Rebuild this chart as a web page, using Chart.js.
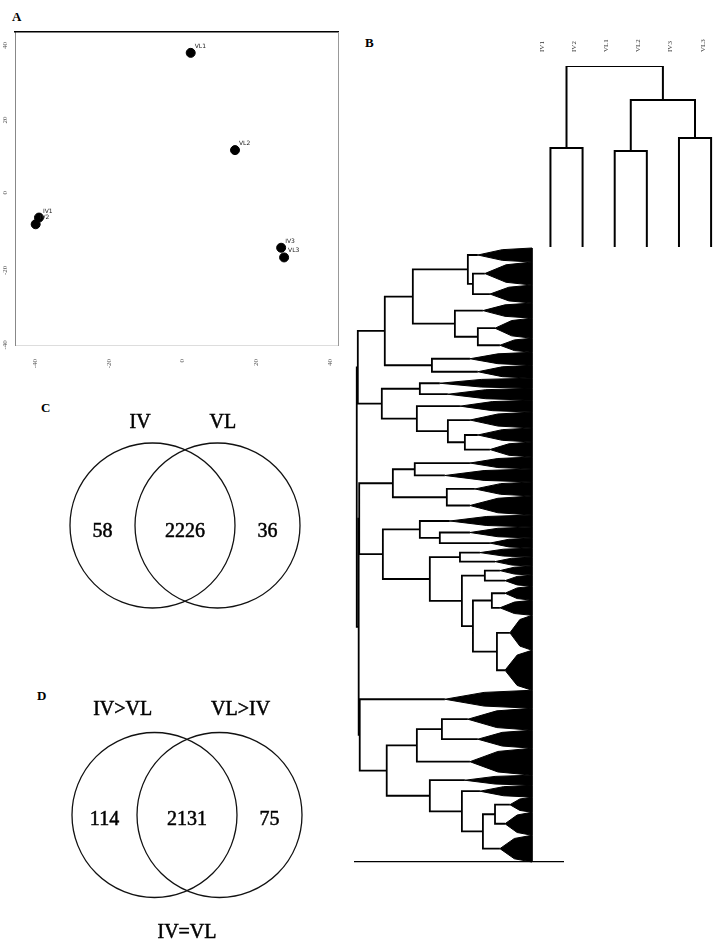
<!DOCTYPE html>
<html>
<head>
<meta charset="utf-8">
<script src="https://cdn.jsdelivr.net/npm/chart.js@4.4.1/dist/chart.umd.min.js"></script>
<style>
  html, body { margin: 0; padding: 0; background: #fff; }
  body { width: 725px; height: 941px; position: relative; overflow: hidden; font-family: "Liberation Serif", "DejaVu Serif", serif; }
  canvas { position: absolute; }
  .panel { position: absolute; font-weight: bold; font-size: 13px; line-height: 1; color: #000; }
</style>
</head>
<body>
<div class="panel" style="left:12px;top:10px">A</div>
<div class="panel" style="left:365px;top:36px">B</div>
<div class="panel" style="left:41px;top:401px">C</div>
<div class="panel" style="left:37px;top:689px">D</div>

<canvas id="pca" width="350" height="380" style="left:0;top:0"></canvas>
<canvas id="samples" width="196" height="222" style="left:529px;top:28px"></canvas>
<canvas id="genes" width="235" height="635" style="left:340px;top:240px"></canvas>
<canvas id="vennC" width="350" height="230" style="left:0;top:395px"></canvas>
<canvas id="vennD" width="350" height="261" style="left:0;top:680px"></canvas>

<script>
// --- panel A: sample scores
const pcaNames = ['VL1', 'VL2', 'IV1', 'IV2', 'IV3', 'VL3'];
const pcaX = [2.2, 14.2, -38.9, -39.8, 26.7, 27.5];
const pcaY = [37.1, 11.0, -7.1, -8.9, -15.2, -17.8];
const pcaTicks = [-40, -20, 0, 20, 40];

// --- panel B top: sample clustering (leaf indices, merge heights)
const sampleNames = ['IV1', 'IV2', 'VL1', 'VL2', 'IV3', 'VL3'];
const sampleTree = [1.0, [0.547, 0, 1], [0.812, [0.530, 2, 3], [0.602, 4, 5]]];

// --- panel B: gene clustering, terminal groups top to bottom
const groupSizes = [53, 87, 68, 57, 76, 53, 49, 49, 38, 45, 45, 60, 53, 57, 45, 49, 53, 72, 45, 42,
  38, 34, 34, 34, 42, 53, 57, 132, 151, 68, 83, 68, 102, 38, 45, 57, 87, 101];
const groupHeights = [0.309, 0.269, 0.240, 0.280, 0.211, 0.183, 0.354, 0.309, 0.526, 0.480,
  0.411, 0.354, 0.309, 0.240, 0.354, 0.497, 0.326, 0.354, 0.469, 0.354,
  0.240, 0.297, 0.211, 0.183, 0.154, 0.154, 0.183, 0.126, 0.154, 0.497,
  0.366, 0.309, 0.354, 0.383, 0.297, 0.126, 0.154, 0.183];
// [height, left, right]; a number is a terminal group
const geneTree = [1.000,
  [0.994,
    [0.840,
      [0.680, [0.366, 0, [0.337, 1, 2]], [0.440, 3, [0.309, 4, 5]]],
      [0.571, 6, 7]],
    [0.857,
      [0.640, 8, 9],
      [0.657, 10, [0.480, 11, [0.383, 12, 13]]]]],
  [0.989,
    [0.986,
      [0.794, [0.669, 14, 15], [0.486, 16, 17]],
      [0.851,
        [0.640, 18, [0.526, 19, 20]],
        [0.583, [0.411, 21, 22], [0.400, [0.269, 23, 24], [0.337, [0.229, 25, 26], [0.200, 27, 28]]]]]],
    [0.983,
      29,
      [0.829,
        [0.657, [0.514, 30, 31], 32],
        [0.583, 33, [0.400, 34, [0.280, [0.211, 35, 36], 37]]]]]]];

// --- panels C and D
const vennCSets = ['IV', 'VL'];
const vennCCounts = [58, 2226, 36];
const vennDSets = ['IV>VL', 'VL>IV'];
const vennDCounts = [114, 2131, 75];
const vennDBottom = 'IV=VL';

Chart.defaults.animation = false;
Chart.defaults.responsive = false;
Chart.defaults.events = [];
Chart.defaults.font.family = '"Liberation Serif", "DejaVu Serif", serif';
Chart.defaults.plugins.legend.display = false;
Chart.defaults.plugins.tooltip.enabled = false;

// walk a tree, collect bracket polylines (height, position) and terminal wedges
function layoutTree(node, sizes, heights, cursor, brackets, wedges) {
  if (typeof node === 'number') {
    const start = cursor.pos;
    const n = sizes[node];
    cursor.pos += n;
    const mid = start + n / 2;
    wedges.push({h: heights[node], mid, start, end: start + n, n});
    return {h: heights[node], pos: mid};
  }
  const [h, a, b] = node;
  const ca = layoutTree(a, sizes, heights, cursor, brackets, wedges);
  const cb = layoutTree(b, sizes, heights, cursor, brackets, wedges);
  brackets.push([[ca.h, ca.pos], [h, ca.pos], [h, cb.pos], [cb.h, cb.pos]]);
  return {h, pos: (ca.pos + cb.pos) / 2};
}

function bracketData(brackets, flip) {
  const out = [];
  brackets.forEach(b => {
    b.forEach(([h, p]) => out.push(flip ? {x: p, y: h} : {x: h, y: p}));
    out.push({x: NaN, y: NaN});
  });
  return out;
}

// ---------- A
const pointNames = {
  id: 'pointNames',
  afterDatasetsDraw(chart) {
    const {ctx, scales: {x, y}} = chart;
    ctx.save();
    ctx.font = '6px "DejaVu Sans"';
    ctx.fillStyle = '#222';
    pcaNames.forEach((n, i) => {
      ctx.fillText(n, x.getPixelForValue(pcaX[i]) + 4, y.getPixelForValue(pcaY[i]) - 5);
    });
    ctx.restore();
  }
};

new Chart(document.getElementById('pca'), {
  type: 'scatter',
  data: {
    datasets: [{
      data: pcaX.map((x, i) => ({x, y: pcaY[i]})),
      pointRadius: 4.5,
      backgroundColor: '#000',
      borderColor: '#000'
    }]
  },
  options: {
    layout: {padding: 0},
    scales: {
      x: {
        type: 'linear', position: 'bottom', min: -45.4, max: 42.1,
        afterBuildTicks: s => { s.ticks = pcaTicks.map(v => ({value: v})); },
        afterFit: s => { s.height = 35; },
        ticks: {minRotation: 90, maxRotation: 90, font: {size: 7}, color: '#555', padding: 6},
        grid: {display: false},
        border: {color: '#ddd', dash: [1, 3]}
      },
      y: {
        type: 'linear', position: 'left', min: -41.3, max: 42.7,
        afterBuildTicks: s => { s.ticks = pcaTicks.map(v => ({value: v})); },
        afterFit: s => { s.width = 15; },
        ticks: {minRotation: 90, maxRotation: 90, font: {size: 7}, color: '#555', padding: 2},
        grid: {display: false},
        border: {color: '#888', dash: [1, 2]}
      },
      x2: {
        type: 'linear', position: 'top', min: -45.4, max: 42.1,
        afterFit: s => { s.height = 32; },
        ticks: {display: false},
        grid: {display: false},
        border: {color: '#000', width: 1.5}
      },
      y2: {
        type: 'linear', position: 'right', min: -41.3, max: 42.7,
        afterFit: s => { s.width = 12; },
        ticks: {display: false},
        grid: {display: false},
        border: {color: '#999', dash: [1, 2]}
      }
    }
  },
  plugins: [pointNames]
});

// ---------- B top
const sBrackets = [];
layoutTree(sampleTree, sampleNames.map(() => 1), sampleNames.map(() => 0), {pos: 0}, sBrackets, []);

new Chart(document.getElementById('samples'), {
  type: 'scatter',
  data: {
    datasets: [{
      data: bracketData(sBrackets, true),
      showLine: true, spanGaps: false,
      borderColor: '#000', borderWidth: 2, pointRadius: 0, fill: false
    }]
  },
  options: {
    layout: {padding: {left: 0, right: 0, top: 0, bottom: 3}},
    scales: {
      x: {
        type: 'linear', position: 'top', min: 0, max: 5.6,
        afterBuildTicks: s => { s.ticks = sampleNames.map((_, i) => ({value: i + 0.5})); },
        afterFit: s => { s.height = 38; },
        ticks: {
          minRotation: 90, maxRotation: 90, font: {size: 7}, color: '#333', padding: 14,
          callback: (v, i) => sampleNames[i]
        },
        grid: {display: false, drawTicks: false},
        border: {display: false}
      },
      y: {type: 'linear', min: 0, max: 1.0, display: false}
    }
  }
});

// ---------- B genes
const gBrackets = [];
const gWedges = [];
layoutTree(geneTree, groupSizes, groupHeights, {pos: 0}, gBrackets, gWedges);
const geneTotal = groupSizes.reduce((a, b) => a + b, 0);

const geneDatasets = [{
  data: bracketData(gBrackets, false),
  showLine: true, spanGaps: false, clip: false,
  borderColor: '#000', borderWidth: 1.8, pointRadius: 0, fill: false
}];
// each terminal group is drawn as a dense black fan of leaves
gWedges.forEach(w => {
  geneDatasets.push({
    data: [
      {x: w.h, y: w.mid},
      {x: w.h * 0.55, y: w.start + w.n * 0.12},
      {x: 0, y: w.start},
      {x: 0, y: w.end},
      {x: w.h * 0.55, y: w.end - w.n * 0.12},
      {x: w.h, y: w.mid}
    ],
    showLine: true, clip: false, fill: 'shape',
    backgroundColor: '#000', borderColor: '#000', borderWidth: 1, pointRadius: 0
  });
});

new Chart(document.getElementById('genes'), {
  type: 'scatter',
  data: {datasets: geneDatasets},
  options: {
    layout: {padding: {left: 15, right: 12, top: 8, bottom: 13}},
    scales: {
      x: {
        type: 'linear', reverse: true, min: -0.177, max: 1.01,
        afterFit: s => { s.height = 0; },
        ticks: {display: false},
        grid: {display: false, drawTicks: false},
        border: {display: true, color: '#000', width: 1.2}
      },
      y: {type: 'linear', reverse: true, min: 0, max: geneTotal, display: false}
    }
  }
});

// ---------- C and D
const VENN_OFFSET = 0.394;

function vennText(sets, counts, cfg) {
  return {
    id: 'vennText',
    afterDatasetsDraw(chart) {
      const {ctx, scales: {x, y}} = chart;
      ctx.save();
      ctx.font = '20px "Liberation Serif"';
      ctx.fillStyle = '#000';
      ctx.strokeStyle = '#000';
      ctx.lineWidth = 0.5;
      ctx.textAlign = 'center';
      ctx.textBaseline = 'middle';
      const put = (t, px, py) => { ctx.fillText(t, px, py); ctx.strokeText(t, px, py); };
      sets.forEach((s, i) => put(s, x.getPixelForValue(cfg.setX[i]), y.getPixelForValue(cfg.setY)));
      counts.forEach((n, i) => put(String(n), x.getPixelForValue(i - 1), y.getPixelForValue(cfg.countY)));
      if (cfg.bottom) put(cfg.bottom, x.getPixelForValue(0), y.getPixelForValue(cfg.bottomY));
      ctx.restore();
    }
  };
}

function vennChart(id, sets, counts, range, cfg) {
  return new Chart(document.getElementById(id), {
    type: 'scatter',
    data: {
      datasets: [{
        data: [{x: -VENN_OFFSET, y: 0}, {x: VENN_OFFSET, y: 0}],
        pointRadius: c => c.chart.scales.x.getPixelForValue(1) - c.chart.scales.x.getPixelForValue(0),
        pointBackgroundColor: 'rgba(0,0,0,0)',
        pointBorderColor: '#111',
        pointBorderWidth: 1.3,
        clip: false
      }]
    },
    options: {
      layout: {padding: 0},
      scales: {
        x: {type: 'linear', display: false, min: range[0], max: range[1]},
        y: {type: 'linear', display: false, min: range[2], max: range[3]}
      }
    },
    plugins: [vennText(sets, counts, cfg)]
  });
}

vennChart('vennC', vennCSets, vennCCounts, [-2.2424, 2.0, -1.206, 1.5818],
  {setX: [-0.545, 0.46], setY: 1.24, countY: -0.08});
vennChart('vennD', vennDSets, vennDCounts, [-2.2667, 1.9758, -1.527, 1.636],
  {setX: [-0.78, 0.65], setY: 1.27, countY: -0.06, bottom: vennDBottom, bottomY: -1.43});
</script>
</body>
</html>
